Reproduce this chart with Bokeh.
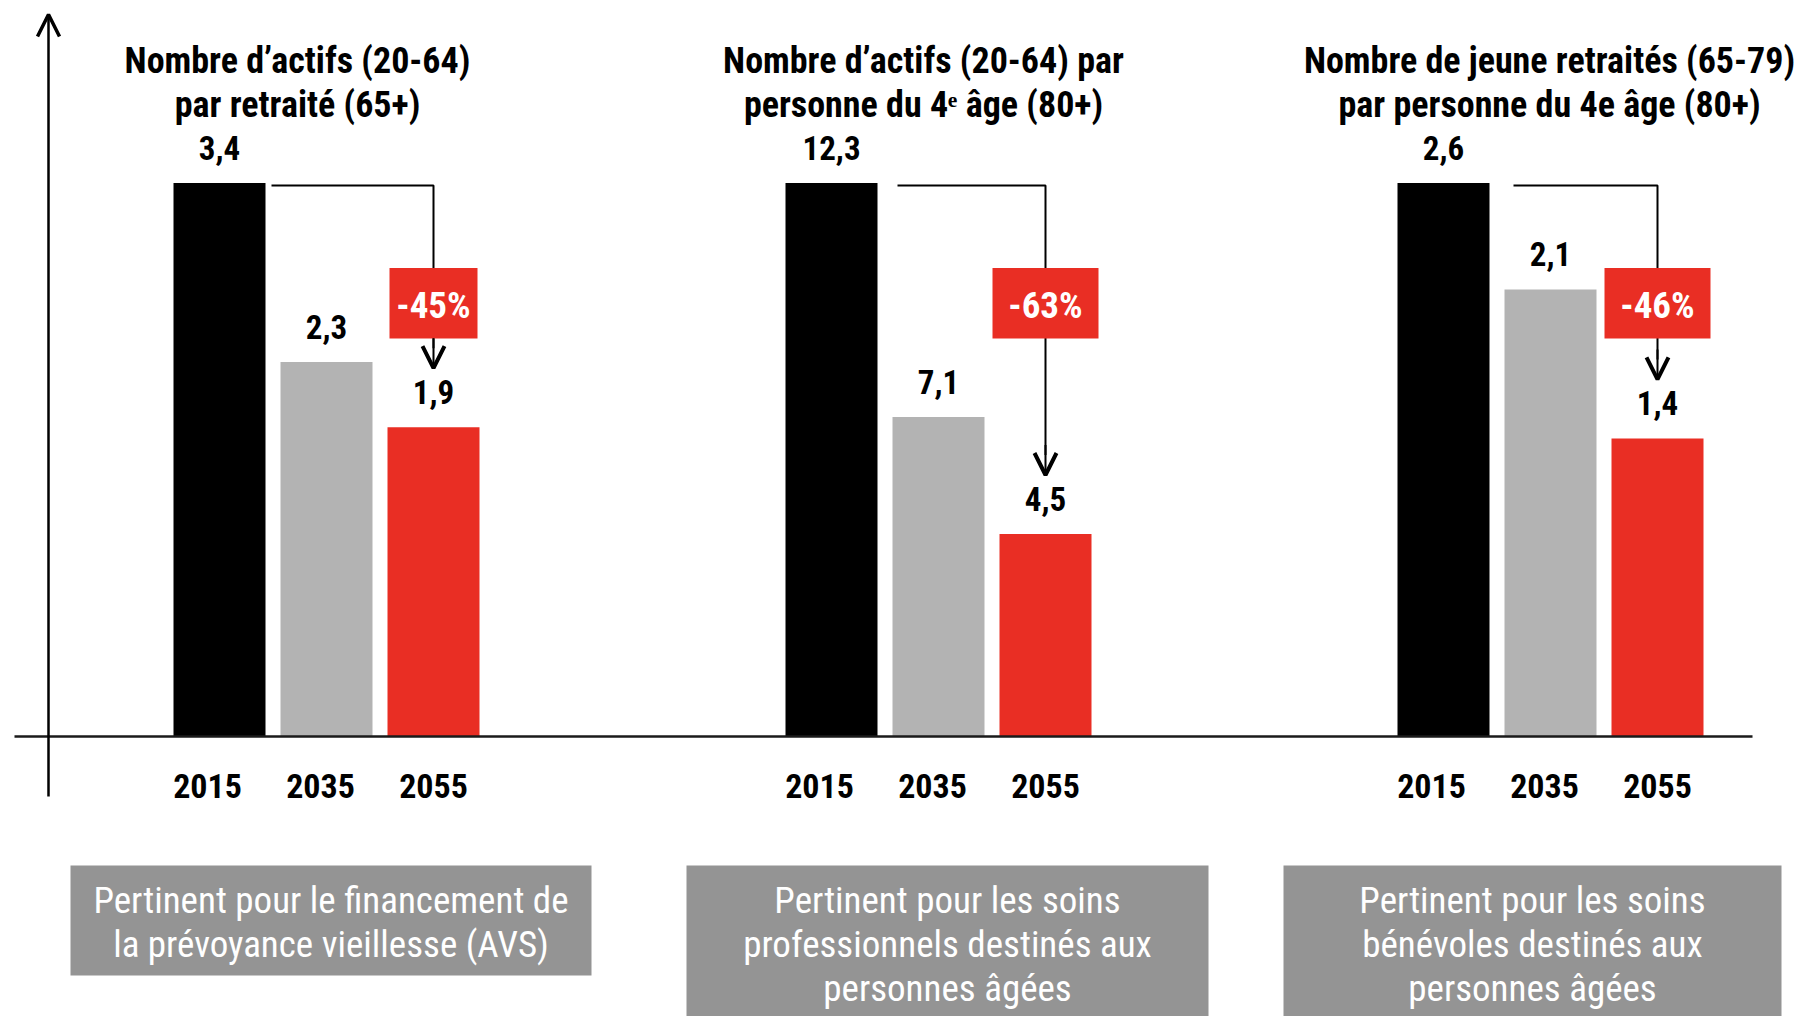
from bokeh.plotting import figure
from bokeh.embed import file_html
from bokeh.resources import INLINE
from bokeh.core.properties import value
from bokeh.models import ColumnDataSource, Arrow, OpenHead

# ---------------- data ----------------
years = ["2015", "2035", "2055"]
values_avs = [3.4, 2.3, 1.9]      # actifs (20-64) par retraité (65+)
values_pro = [12.3, 7.1, 4.5]     # actifs (20-64) par personne du 4e âge (80+)
values_ben = [2.6, 2.1, 1.4]      # jeunes retraités (65-79) par personne du 4e âge (80+)
changes = ["-45%", "-63%", "-46%"]
titles = [
    ["Nombre d’actifs (20-64)", "par retraité (65+)"],
    ["Nombre d’actifs (20-64) par", "personne du 4ᵉ âge (80+)"],
    ["Nombre de jeune retraités (65-79)", "par personne du 4e âge (80+)"],
]
notes = [
    ["Pertinent pour le financement de", "la prévoyance vieillesse (AVS)"],
    ["Pertinent pour les soins", "professionnels destinés aux", "personnes âgées"],
    ["Pertinent pour les soins", "bénévoles destinés aux", "personnes âgées"],
]
groups = [values_avs, values_pro, values_ben]

# ---------------- layout (pixels) ----------------
W, H = 1800, 1016
BASE_PY, TOP_PY = 736.0, 182.5          # baseline and top of 2015 bars
UNIT = BASE_PY - TOP_PY                 # px per normalised unit
GROUP_PX, X0_PX = 612.0, 326.0          # group spacing, centre of first group
BAR_STEP, BAR_W = 107.0, 92.0
YEAR_STEP, YEAR_DX = 113.0, -6.0
TITLE_DX = [-29.0, -15.0, -1.0]
CONN_GAP = [6.0, 20.0, 24.0]
BOX_W = [88.0, 106.0, 106.0]
NOTE_BOX = [(70, 591, 865, 975), (686, 1208, 865, 1030), (1283, 1781, 865, 1030)]
FONT = value("Roboto Condensed")
RED, GREY, BLACK, NOTE_GREY = "#E92E24", "#B3B3B3", "#000000", "#949494"
colors = [BLACK, GREY, RED]


def px2x(px):
    return (px - X0_PX) / GROUP_PX


def py2y(py):
    return (BASE_PY - py) / UNIT


p = figure(width=W, height=H, output_backend="svg", toolbar_location=None,
           x_range=(px2x(0), px2x(W)), y_range=(py2y(H), py2y(0)),
           x_axis_type=None, y_axis_type=None, min_border=0)
p.outline_line_color = None
p.background_fill_color = "white"
p.border_fill_color = "white"
p.grid.visible = False

# bars
bx, btop, bcol, blab = [], [], [], []
for i, vals in enumerate(groups):
    for j, v in enumerate(vals):
        bx.append(i + (j - 1) * BAR_STEP / GROUP_PX)
        btop.append(v / vals[0])
        bcol.append(colors[j])
        blab.append(f"{v:.1f}".replace(".", ","))
src = ColumnDataSource(dict(x=bx, top=btop, color=bcol, label=blab,
                            ly=[t + 35.0 / UNIT for t in btop]))
p.vbar(x="x", top="top", bottom=0, width=BAR_W / GROUP_PX, fill_color="color",
       line_color=None, source=src)
p.text(x="x", y="ly", text="label", source=src, text_font=FONT, text_font_style="bold",
       text_font_size="33px", text_align="center", text_baseline="middle", text_color="black")

# baseline and vertical axis
p.segment(x0=[px2x(14)], y0=[0], x1=[px2x(1752)], y1=[0], line_color="#1a1a1a", line_width=2.5)
p.add_layout(Arrow(end=OpenHead(size=22, line_width=3.5, line_color="black"),
                   x_start=px2x(48), y_start=py2y(796), x_end=px2x(48), y_end=py2y(14),
                   line_width=2.5, line_color="black"))

# year labels
yx, yt = [], []
for i in range(len(groups)):
    for j, yr in enumerate(years):
        yx.append(i + (YEAR_DX + (j - 1) * YEAR_STEP) / GROUP_PX)
        yt.append(yr)
p.text(x=yx, y=[py2y(785)] * len(yx), text=yt, text_font=FONT, text_font_style="bold",
       text_font_size="34px", text_align="center", text_baseline="middle", text_color="black")

# connectors, arrows, change boxes
cxs, cys, ax0, ay0, ay1, boxx, boxw = [], [], [], [], [], [], []
for i, vals in enumerate(groups):
    xl = i + (-BAR_STEP + BAR_W / 2 + CONN_GAP[i]) / GROUP_PX
    xr = i + BAR_STEP / GROUP_PX
    tip = vals[2] / vals[0] + 59.0 / UNIT
    cxs.append([xl, xr, xr])
    cys.append([1 - 2.5 / UNIT, 1 - 2.5 / UNIT, tip + 20.0 / UNIT])
    ax0.append(xr)
    ay0.append(tip + 30.0 / UNIT)
    ay1.append(tip)
    boxx.append(xr)
    boxw.append(BOX_W[i] / GROUP_PX)
p.multi_line(xs=cxs, ys=cys, line_color="black", line_width=2)
asrc = ColumnDataSource(dict(x0=ax0, y0=ay0, x1=ax0, y1=ay1))
p.add_layout(Arrow(end=OpenHead(size=22, line_width=4, line_color="black"),
                   x_start="x0", y_start="y0", x_end="x1", y_end="y1", source=asrc,
                   line_width=2, line_color="black"))
box_top, box_bot = py2y(267.5), py2y(338.0)
p.rect(x=boxx, y=[(box_top + box_bot) / 2] * 3, width=boxw, height=box_top - box_bot,
       fill_color=RED, line_color=None)
p.text(x=boxx, y=[py2y(305)] * 3, text=changes, text_font=FONT, text_font_style="bold",
       text_font_size="37px", text_align="center", text_baseline="middle", text_color="white")

# titles
tx, ty, tt = [], [], []
for i, lines in enumerate(titles):
    for k, line in enumerate(lines):
        tx.append(i + TITLE_DX[i] / GROUP_PX)
        ty.append(py2y(60 + k * 44.5))
        tt.append(line)
p.text(x=tx, y=ty, text=tt, text_font=FONT, text_font_style="bold", text_font_size="36px",
       text_align="center", text_baseline="middle", text_color="black")

# note boxes
p.quad(left=[px2x(b[0]) for b in NOTE_BOX], right=[px2x(b[1]) for b in NOTE_BOX],
       top=[py2y(b[2]) for b in NOTE_BOX], bottom=[py2y(b[3]) for b in NOTE_BOX],
       fill_color=NOTE_GREY, line_color=None)
nx, ny, nt = [], [], []
for i, lines in enumerate(notes):
    cx = px2x((NOTE_BOX[i][0] + NOTE_BOX[i][1]) / 2)
    for k, line in enumerate(lines):
        nx.append(cx)
        ny.append(py2y(900 + k * 44.2))
        nt.append(line)
p.text(x=nx, y=ny, text=nt, text_font=FONT, text_font_size="37px", text_align="center",
       text_baseline="middle", text_color="white")

open("out.html", "w").write(file_html(p, INLINE))
